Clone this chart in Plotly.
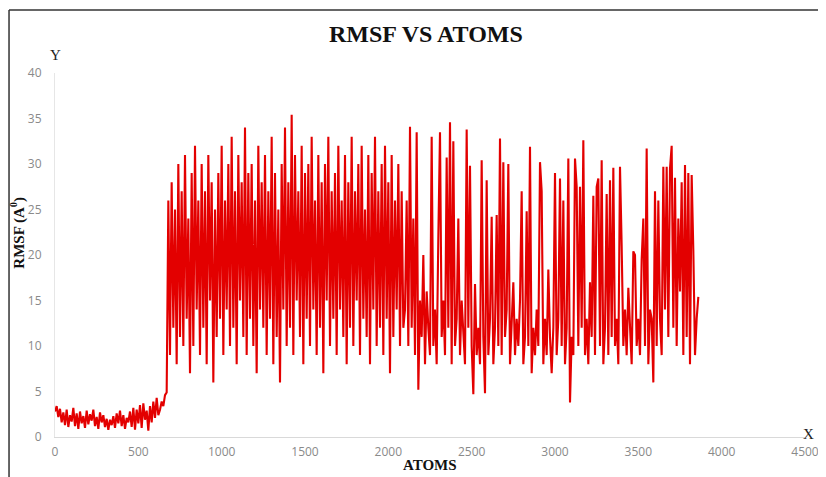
import numpy as np
import plotly.graph_objects as go

# RMSF values (Å), one value every 10 atoms
low_part = [2.8,3.4,2.2,3.1,1.6,2.7,1.3,3.0,1.1,2.4,
            1.7,3.2,1.2,2.6,0.9,2.8,1.5,2.3,1.0,2.9,
            1.4,2.5,1.8,3.0,1.2,2.2,0.9,2.7,1.6,2.4,
            1.1,2.0,0.8,1.9,1.3,2.3,1.0,2.6,1.5,2.9,
            1.2,2.4,0.9,2.1,1.6,2.8,1.1,3.2,0.8,3.0,
            1.5,3.5,1.0,3.7,1.9,2.9,0.7,3.4,1.6,3.9,
            2.1,4.3,2.4,3.0,3.9,3.4,4.6,4.9]
high_part = [26,9,28,12,25,8,30,11,27,10,
             31,13,24,7,29,10,32,14,26,9,
             30,12,27,8,31,15,28,6,25,11,
             29,13,32,9,26,14,30,10,33,12,
             27,8,31,15,28,11,34,9,29,13,
             30,10,26,7,32,14,28,12,31,9,
             27,13,33,8,29,11,25,6,30,14,
             34,10,28,12,35.4,9,31,15,27,11,
             32,8,29,13,30,10,33,14,26,9,
             31,12,28,7,30,15,33,10,27,13,
             29,9,32,14,26,11,31,8,28,12,
             33,10,27,15,30,9,32,13,25,11,
             31,8,29,14,33,10,27,12,30,9,
             32,13,28,7,31,11,26,14,30,10,
             27,12]
tail_part = [14,26,10,34.1,12,24,9,33.5,5.2,15,
             11,20,8,16,12,9,33,10,14,8,
             22,33.5,11,15,9,30.7,12,34.6,8,32.5,
             10,13,24,9,15,11,8,33.8,12,29.8,
             10,4.7,16.8,9,12,8,30.4,11,4.8,28.2,
             9,13,24.2,8,12,24.4,10,32.8,9,30.2,
             11,14,30,8,12,17,9,13,10,15,
             27,8,11,24.8,10,31.9,7,12,9,14,
             10,30.2,27,8,13,9,18.4,11,7,12,
             29,9,13,28.4,10,26,8,12,30.6,3.8,
             11,9,30.6,27.5,10,27.5,12,32.6,9,13,
             8,17,11,26.5,9,27.5,28.4,10,30.4,8,
             12,26.7,9,28.2,11,29.6,10,13,8,29.7,
             21,10,14,9,16.4,11,8,20.4,20,10,
             13,9,19.5,24,10,31.7,8,14,13,6,
             27,10,26,13,9,29.7,14,29.7,11,29.5,
             32,12,28.5,10,24,16,28,9,29.9,11,
             29,8,28.8,20.5,9,13,15.4]

rmsf = low_part + high_part + tail_part
atoms = list(range(0, 10 * len(rmsf), 10))

x_ticks = [0, 500, 1000, 1500, 2000, 2500, 3000, 3500, 4000, 4500]
y_ticks = [0, 5, 10, 15, 20, 25, 30, 35, 40]

fig = go.Figure()
fig.add_trace(go.Scatter(x=atoms, y=rmsf, mode="lines",
                         line=dict(color="#e30000", width=2.1),
                         showlegend=False))

serif = "Liberation Serif, Times New Roman, serif"
tick_font = dict(family="Open Sans, Arial, sans-serif", size=12, color="#8a8a8a")

fig.update_layout(
    width=818, height=469,
    margin=dict(l=47, r=21, t=65, b=40, autoexpand=False),
    paper_bgcolor="white", plot_bgcolor="white",
    xaxis=dict(range=[0, 4500], tickvals=x_ticks, showgrid=False, zeroline=False,
               showline=True, linecolor="#d9d9d9", linewidth=1, ticks="",
               tickfont=tick_font, ticklabelstandoff=4, automargin=False),
    yaxis=dict(range=[0, 40], tickvals=y_ticks, showgrid=False, zeroline=False,
               showline=True, linecolor="#e6e6e6", linewidth=1, ticks="",
               tickfont=tick_font, ticklabelstandoff=10, automargin=False),
    shapes=[
        dict(type="line", xref="paper", yref="paper", x0=-0.0613, x1=-0.0613,
             y0=-0.2, y1=1.173, line=dict(color="#333333", width=1.5)),
        dict(type="line", xref="paper", yref="paper", x0=-0.0613, x1=1.1,
             y0=1.173, y1=1.173, line=dict(color="#333333", width=1.5)),
    ],
    annotations=[
        dict(text="<b>RMSF VS ATOMS</b>", xref="paper", yref="paper", x=0.495, y=1.108,
             showarrow=False, font=dict(family=serif, size=24, color="#111111"),
             xanchor="center", yanchor="middle"),
        dict(text="Y", xref="paper", yref="paper", x=0.001, y=1.049, showarrow=False,
             font=dict(family=serif, size=15, color="#222222"), xanchor="center", yanchor="middle"),
        dict(text="X", xref="paper", yref="paper", x=1.014, y=0.008, showarrow=False,
             font=dict(family=serif, size=15, color="#222222"), xanchor="right", yanchor="middle"),
        dict(text="<b>ATOMS</b>", xref="paper", yref="paper", x=0.5, y=-0.078, showarrow=False,
             font=dict(family=serif, size=15, color="#111111"), xanchor="center", yanchor="middle"),
        dict(text="<b>RMSF (A<sup>0</sup>)</b>", xref="paper", yref="paper", x=-0.05, y=0.56,
             showarrow=False, textangle=-90,
             font=dict(family=serif, size=15, color="#111111"), xanchor="center", yanchor="middle"),
    ],
)

fig.write_html("out.html")
